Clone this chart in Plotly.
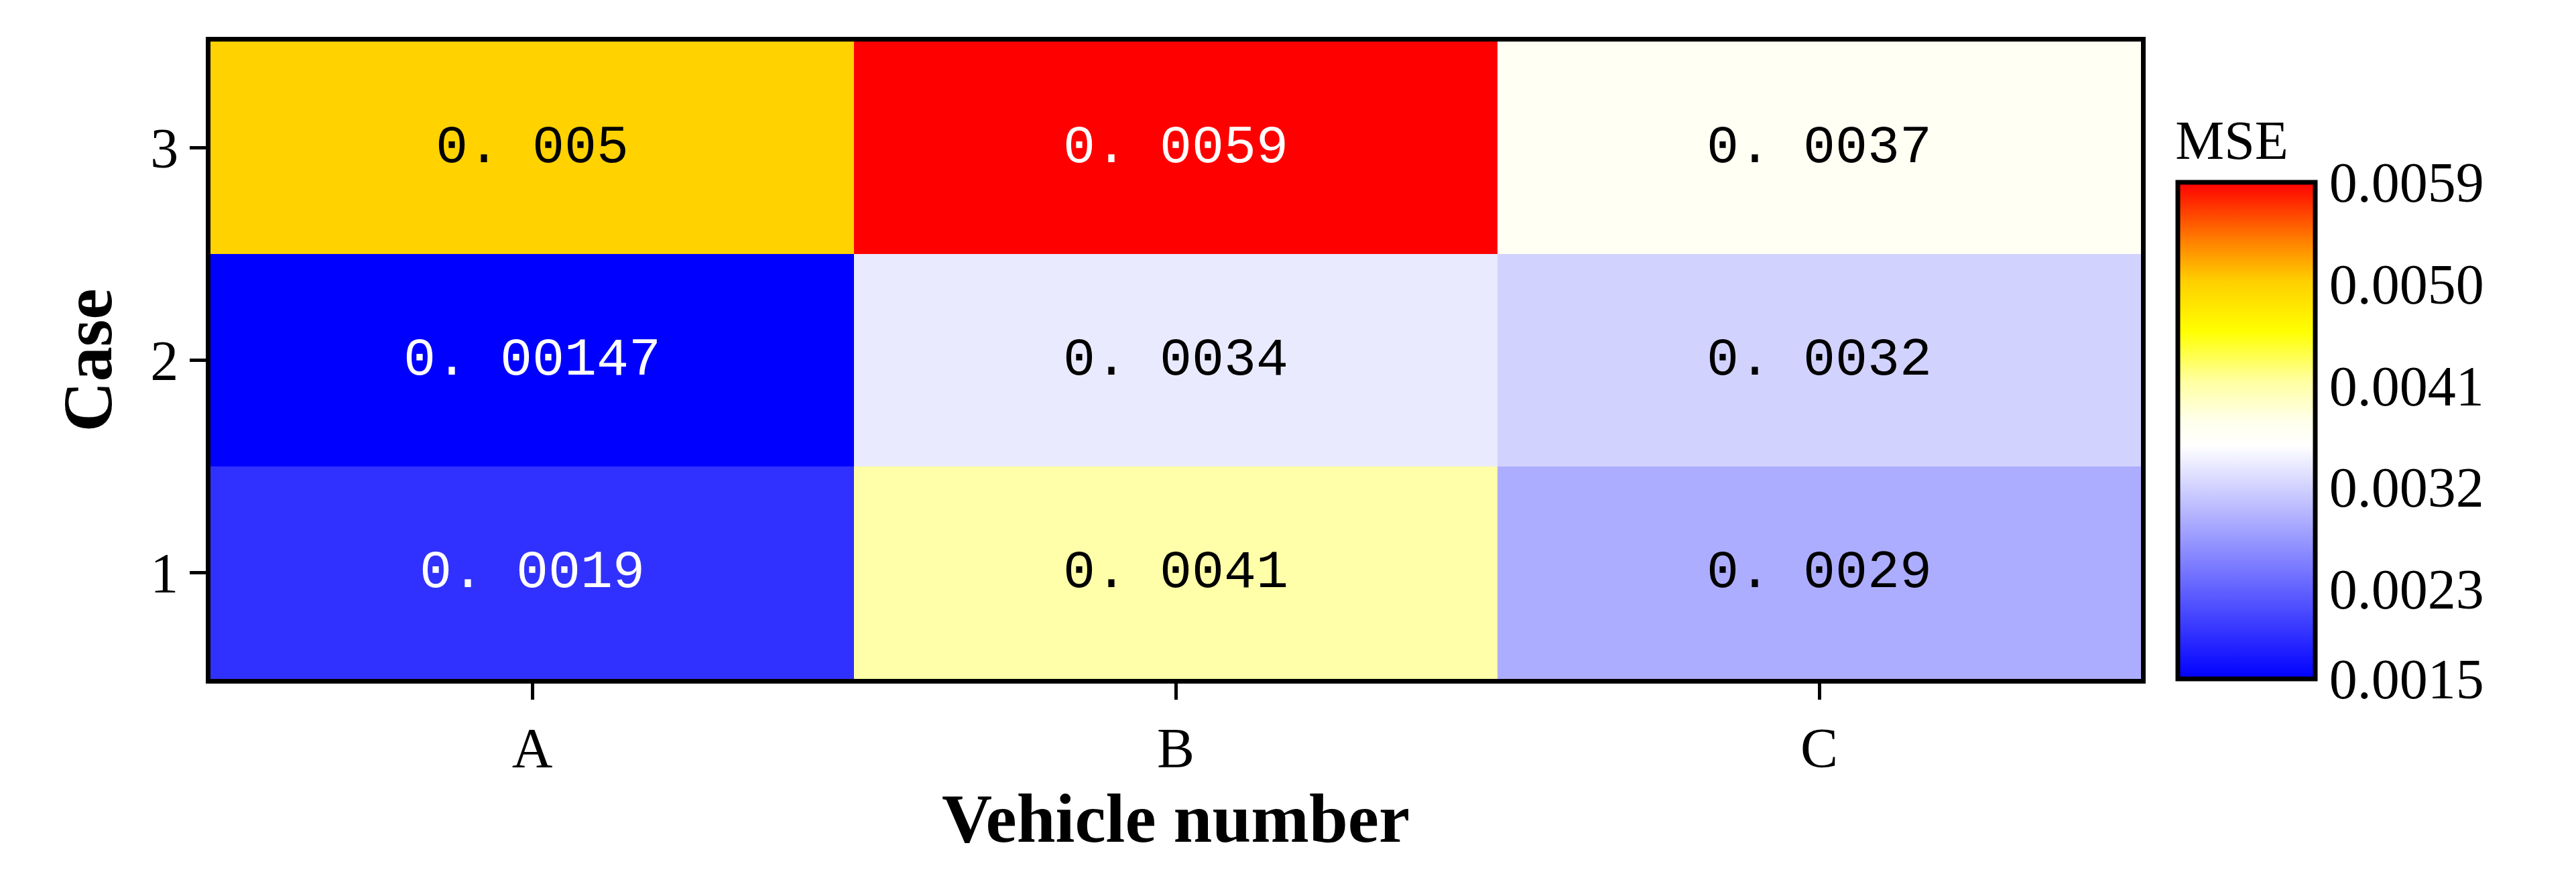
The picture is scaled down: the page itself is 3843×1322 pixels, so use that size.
import plotly.graph_objects as go

vehicles = ["A", "B", "C"]
cases = [1, 2, 3]
mse = [
    [0.0019, 0.0041, 0.0029],
    [0.00147, 0.0034, 0.0032],
    [0.005, 0.0059, 0.0037],
]
labels = [
    ["0. 0019", "0. 0041", "0. 0029"],
    ["0. 00147", "0. 0034", "0. 0032"],
    ["0. 005", "0. 0059", "0. 0037"],
]
cbar_ticks = [0.0015, 0.0023, 0.0032, 0.0041, 0.0050, 0.0059]

cscale = [
    [0.0, "rgb(0,0,255)"],
    [0.47, "rgb(255,255,255)"],
    [0.52, "rgb(255,255,235)"],
    [0.60, "rgb(255,255,160)"],
    [0.70, "rgb(255,255,0)"],
    [0.80, "rgb(255,208,0)"],
    [0.88, "rgb(255,130,0)"],
    [1.0, "rgb(255,0,0)"],
]

fig = go.Figure(go.Heatmap(
    x=vehicles, y=cases, z=mse, zmin=0.0015, zmax=0.0059,
    colorscale=cscale,
    colorbar=dict(
        title=dict(text="MSE", side="top", font=dict(family="Liberation Serif", size=82, color="black")),
        tickvals=cbar_ticks, ticktext=[f"{t:.4f}" for t in cbar_ticks],
        tickfont=dict(family="Liberation Serif", size=84, color="black"),
        ticks="", outlinewidth=7, outlinecolor="black",
        thickness=205, len=0.88, lenmode="fraction", yanchor="bottom", y=0,
        xanchor="left", x=1.019, xpad=0, ypad=0,
    ),
))

for i, c in enumerate(cases):
    for j, v in enumerate(vehicles):
        val = mse[i][j]
        dark = val < 0.0022 or val > 0.0055
        fig.add_annotation(x=j, y=c, text=labels[i][j], showarrow=False,
                           font=dict(family="Liberation Mono", size=80,
                                     color="white" if dark else "black"))

axis_common = dict(showline=True, linewidth=7, linecolor="black", mirror=True,
                   ticks="outside", ticklen=24, tickwidth=5, tickcolor="black",
                   tickfont=dict(family="Liberation Serif", size=84, color="black"))
fig.update_xaxes(title=dict(text="<b>Vehicle number</b>", font=dict(family="Liberation Serif", size=104, color="black"), standoff=5), **axis_common)
fig.update_yaxes(title=dict(text="<b>Case</b>", font=dict(family="Liberation Serif", size=104, color="black"), standoff=25),
                 tickvals=cases, range=[0.5, 3.5], **axis_common)

fig.update_layout(width=3843, height=1322, margin=dict(l=306, r=657, t=54, b=317),
                  plot_bgcolor="white", paper_bgcolor="white")
fig.write_html("out.html")
